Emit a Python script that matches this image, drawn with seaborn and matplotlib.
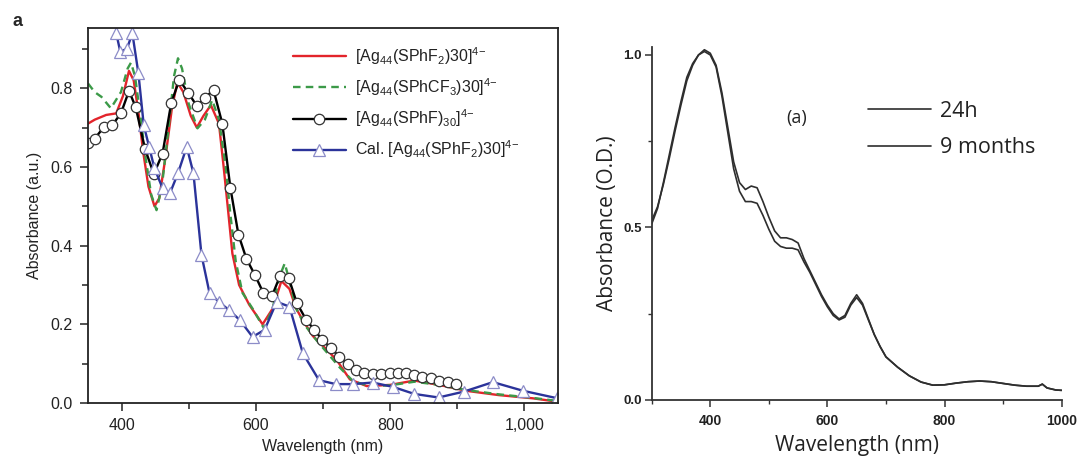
import matplotlib
matplotlib.use("Agg")
import matplotlib.pyplot as plt
from matplotlib.ticker import MultipleLocator, FixedLocator
import seaborn as sns

# ---- left panel: measured / calculated spectra ----
SPHF2_NM = [350, 360, 377, 392, 402, 411, 418, 425, 432, 440, 449, 456, 465, 475, 483, 492, 503, 512,
            522, 533, 545, 552, 558, 565, 575, 590, 610, 625, 638, 650, 660, 670, 685, 700, 720, 740,
            765, 800, 836, 873, 913, 962, 1012, 1050]
SPHF2_ABS = [0.71, 0.72, 0.732, 0.736, 0.78, 0.844, 0.82, 0.74, 0.64, 0.55, 0.50, 0.52, 0.62, 0.75, 0.815,
             0.79, 0.73, 0.70, 0.73, 0.757, 0.71, 0.60, 0.50, 0.38, 0.30, 0.25, 0.20, 0.24, 0.31, 0.29,
             0.24, 0.21, 0.17, 0.145, 0.11, 0.06, 0.043, 0.046, 0.057, 0.046, 0.031, 0.020, 0.012, 0.003]

SPHCF3_NM = [350, 360, 370, 384, 399, 409, 414, 420, 428, 436, 444, 452, 460, 470, 478, 484, 490, 500,
             513, 524, 535, 545, 555, 562, 570, 580, 595, 612, 625, 635, 643, 650, 660, 672, 690, 705,
             725, 745, 770, 800, 836, 873, 913, 962, 1012, 1050]
SPHCF3_ABS = [0.812, 0.79, 0.778, 0.749, 0.79, 0.85, 0.865, 0.83, 0.73, 0.62, 0.53, 0.49, 0.55, 0.70, 0.83,
              0.876, 0.85, 0.76, 0.698, 0.72, 0.77, 0.72, 0.60, 0.48, 0.36, 0.28, 0.24, 0.19, 0.24, 0.32,
              0.355, 0.31, 0.24, 0.20, 0.16, 0.13, 0.09, 0.055, 0.043, 0.045, 0.054, 0.046, 0.033, 0.022,
              0.013, 0.005]

SPHF_NM = [350, 360, 374, 386, 399, 411, 421, 435, 448, 461, 474, 486, 499, 512, 524, 537, 550, 562, 574,
           586, 599, 611, 624, 636, 649, 661, 675, 687, 699, 712, 724, 737, 749, 761, 774, 786, 799, 811,
           823, 836, 848, 861, 873, 886, 898]
SPHF_ABS = [0.66, 0.672, 0.702, 0.706, 0.736, 0.793, 0.752, 0.645, 0.582, 0.634, 0.763, 0.821, 0.789,
            0.755, 0.776, 0.795, 0.710, 0.547, 0.428, 0.366, 0.324, 0.280, 0.272, 0.323, 0.317, 0.254,
            0.211, 0.186, 0.160, 0.139, 0.118, 0.099, 0.084, 0.075, 0.073, 0.074, 0.075, 0.075, 0.075,
            0.071, 0.067, 0.063, 0.057, 0.053, 0.048]

CAL_NM = [392, 398, 408, 416, 425, 433, 441, 449, 461, 472, 484, 497, 507, 519, 531, 545, 560, 576, 595,
          613, 631, 650, 670, 694, 719, 745, 774, 804, 836, 872, 910, 953, 998, 1049]
CAL_ABS = [0.94, 0.893, 0.90, 0.94, 0.838, 0.706, 0.651, 0.596, 0.546, 0.533, 0.584, 0.651, 0.584, 0.376,
           0.279, 0.257, 0.236, 0.211, 0.168, 0.186, 0.257, 0.245, 0.126, 0.058, 0.048, 0.048, 0.052,
           0.041, 0.023, 0.014, 0.029, 0.053, 0.031, 0.012]

LEFT_LABELS = [r"[Ag$_{44}$(SPhF$_{2}$)30]$^{4{-}}$",
               r"[Ag$_{44}$(SPhCF$_{3}$)30]$^{4{-}}$",
               r"[Ag$_{44}$(SPhF)$_{30}$]$^{4{-}}$",
               r"Cal. [Ag$_{44}$(SPhF$_{2}$)30]$^{4{-}}$"]
LEFT_XTICKS = [400, 600, 800, 1000]
LEFT_XTICKLABELS = ["400", "600", "800", "1,000"]
LEFT_YTICKS = [0.0, 0.2, 0.4, 0.6, 0.8]

# ---- right panel: stability, 24 h vs 9 months ----
H24_NM = [300, 310, 320, 330, 340, 350, 360, 370, 380, 390, 400, 410, 420, 430, 440, 450, 460, 470, 480,
          490, 500, 510, 520, 530, 540, 550, 560, 570, 580, 590, 600, 610, 620, 630, 640, 650, 660, 670,
          680, 690, 700, 720, 740, 760, 780, 800, 820, 840, 860, 880, 900, 920, 940, 960, 967, 975, 990,
          1000]
H24_ABS = [0.52, 0.56, 0.625, 0.70, 0.78, 0.855, 0.925, 0.97, 1.0, 1.015, 1.005, 0.97, 0.89, 0.79, 0.69,
           0.63, 0.61, 0.62, 0.615, 0.575, 0.53, 0.49, 0.47, 0.47, 0.465, 0.455, 0.41, 0.375, 0.34, 0.305,
           0.275, 0.25, 0.235, 0.245, 0.28, 0.305, 0.28, 0.235, 0.19, 0.155, 0.125, 0.095, 0.07, 0.052,
           0.043, 0.044, 0.049, 0.053, 0.055, 0.053, 0.048, 0.043, 0.040, 0.040, 0.046, 0.035, 0.029, 0.028]
M9_NM = H24_NM
M9_ABS = [0.51, 0.555, 0.63, 0.71, 0.79, 0.865, 0.935, 0.975, 1.0, 1.01, 1.0, 0.965, 0.88, 0.775, 0.67,
          0.605, 0.575, 0.575, 0.57, 0.535, 0.495, 0.46, 0.445, 0.44, 0.44, 0.435, 0.40, 0.37, 0.335, 0.30,
          0.27, 0.245, 0.232, 0.24, 0.275, 0.297, 0.275, 0.232, 0.19, 0.155, 0.125, 0.095, 0.07, 0.052,
          0.043, 0.044, 0.049, 0.053, 0.055, 0.053, 0.048, 0.043, 0.040, 0.040, 0.046, 0.035, 0.029, 0.028]
RIGHT_LABELS = ["24h", "9 months"]
RIGHT_XTICKS = [400, 600, 800, 1000]
RIGHT_YTICKS = [0.0, 0.5, 1.0]

sns.set_theme(style="ticks")
plt.rcParams["font.family"] = ["Liberation Sans", "DejaVu Sans"]
plt.rcParams["mathtext.fontset"] = "custom"
plt.rcParams["mathtext.rm"] = "Liberation Sans"
plt.rcParams["mathtext.it"] = "Liberation Sans"
plt.rcParams["mathtext.bf"] = "Liberation Sans:bold"

fig = plt.figure(figsize=(10.8, 4.68), dpi=100)

# ---------------- left ----------------
ax1 = fig.add_axes([0.0815, 0.1389, 0.4352, 0.8013])
sns.lineplot(x=SPHF2_NM, y=SPHF2_ABS, ax=ax1, color="#e3242b", lw=1.7, sort=False,
             estimator=None, label=LEFT_LABELS[0])
sns.lineplot(x=SPHCF3_NM, y=SPHCF3_ABS, ax=ax1, color="#3c9a48", lw=1.7, sort=False,
             estimator=None, linestyle=(0, (3.2, 2.2)), label=LEFT_LABELS[1])
sns.lineplot(x=SPHF_NM, y=SPHF_ABS, ax=ax1, color="black", lw=1.7, sort=False, estimator=None,
             marker="o", markersize=7.5, markerfacecolor="white", markeredgecolor="#333333",
             markeredgewidth=0.9, label=LEFT_LABELS[2])
sns.lineplot(x=CAL_NM, y=CAL_ABS, ax=ax1, color="#2b339a", lw=1.7, sort=False, estimator=None,
             marker="^", markersize=8.5, markerfacecolor="white", markeredgecolor="#8c8cc8",
             markeredgewidth=0.9, label=LEFT_LABELS[3])

ax1.set_xlim(350, 1050)
ax1.set_ylim(0, 0.953)
ax1.xaxis.set_major_locator(FixedLocator(LEFT_XTICKS))
ax1.set_xticklabels(LEFT_XTICKLABELS)
ax1.xaxis.set_minor_locator(MultipleLocator(100))
ax1.yaxis.set_major_locator(FixedLocator(LEFT_YTICKS))
ax1.set_yticklabels([f"{v:.1f}" for v in LEFT_YTICKS])
ax1.yaxis.set_minor_locator(MultipleLocator(0.1))
ax1.tick_params(which="major", direction="out", length=6, width=1.1, labelsize=11.5,
                color="#222222", labelcolor="#222222", pad=5)
ax1.tick_params(which="minor", direction="out", length=4.5, width=1.1, color="#222222")
for s in ax1.spines.values():
    s.set_linewidth(1.3)
    s.set_color("#222222")
ax1.set_xlabel("Wavelength (nm)", fontsize=11.5, color="#222222", labelpad=4)
ax1.set_ylabel("Absorbance (a.u.)", fontsize=11.5, color="#222222", labelpad=6)
ax1.legend(loc="upper left", bbox_to_anchor=(0.436, 0.955), frameon=False, fontsize=11.5,
           handlelength=3.3, handletextpad=0.6, labelspacing=0.6, borderaxespad=0,
           borderpad=0, numpoints=1, labelcolor="#222222")
fig.text(0.012, 0.955, "a", fontsize=13, fontweight="bold", ha="left", va="center")

# ---------------- right ----------------
ax2 = fig.add_axes([0.6034, 0.1453, 0.3796, 0.7543])
sns.lineplot(x=H24_NM, y=H24_ABS, ax=ax2, color="#2e2e2e", lw=1.2, sort=False, estimator=None,
             label=RIGHT_LABELS[0])
sns.lineplot(x=M9_NM, y=M9_ABS, ax=ax2, color="#2e2e2e", lw=1.2, sort=False, estimator=None,
             label=RIGHT_LABELS[1])
ax2.set_xlim(300, 1000)
ax2.set_ylim(0, 1.023)
sns.despine(ax=ax2)
ax2.xaxis.set_major_locator(FixedLocator(RIGHT_XTICKS))
ax2.xaxis.set_minor_locator(MultipleLocator(100))
ax2.yaxis.set_major_locator(FixedLocator(RIGHT_YTICKS))
ax2.set_yticklabels([f"{v:.1f}" for v in RIGHT_YTICKS])
ax2.yaxis.set_minor_locator(MultipleLocator(0.25))
ax2.tick_params(axis="x", which="major", direction="out", length=5, width=1.1, labelsize=10,
                color="#333333", labelcolor="#222222", pad=5)
ax2.tick_params(axis="y", which="major", direction="out", length=5, width=1.1, labelsize=9.5,
                color="#333333", labelcolor="#222222", pad=2)
ax2.tick_params(which="minor", direction="out", length=3, width=1.0, color="#333333")
for lab in ax2.get_xticklabels() + ax2.get_yticklabels():
    lab.set_fontweight("bold")
for s in ax2.spines.values():
    s.set_linewidth(1.3)
    s.set_color("#333333")
ax2.set_xlabel("Wavelength (nm)", fontsize=15, family="Open Sans", color="#222222", labelpad=5)
ax2.set_ylabel("Absorbance (O.D.)", fontsize=15, family="Open Sans", color="#222222", labelpad=4)
ax2.text(0.354, 0.80, "(a)", transform=ax2.transAxes, fontsize=13, family="Open Sans",
         ha="center", va="center", color="#222222")
leg = ax2.legend(loc="upper left", bbox_to_anchor=(0.527, 0.848), frameon=False,
                 prop={"family": "Open Sans", "size": 15.5}, handlelength=2.95, handletextpad=0.4,
                 labelspacing=0.72, borderaxespad=0, borderpad=0, labelcolor="#222222")

fig.savefig("out.png", dpi=100)
